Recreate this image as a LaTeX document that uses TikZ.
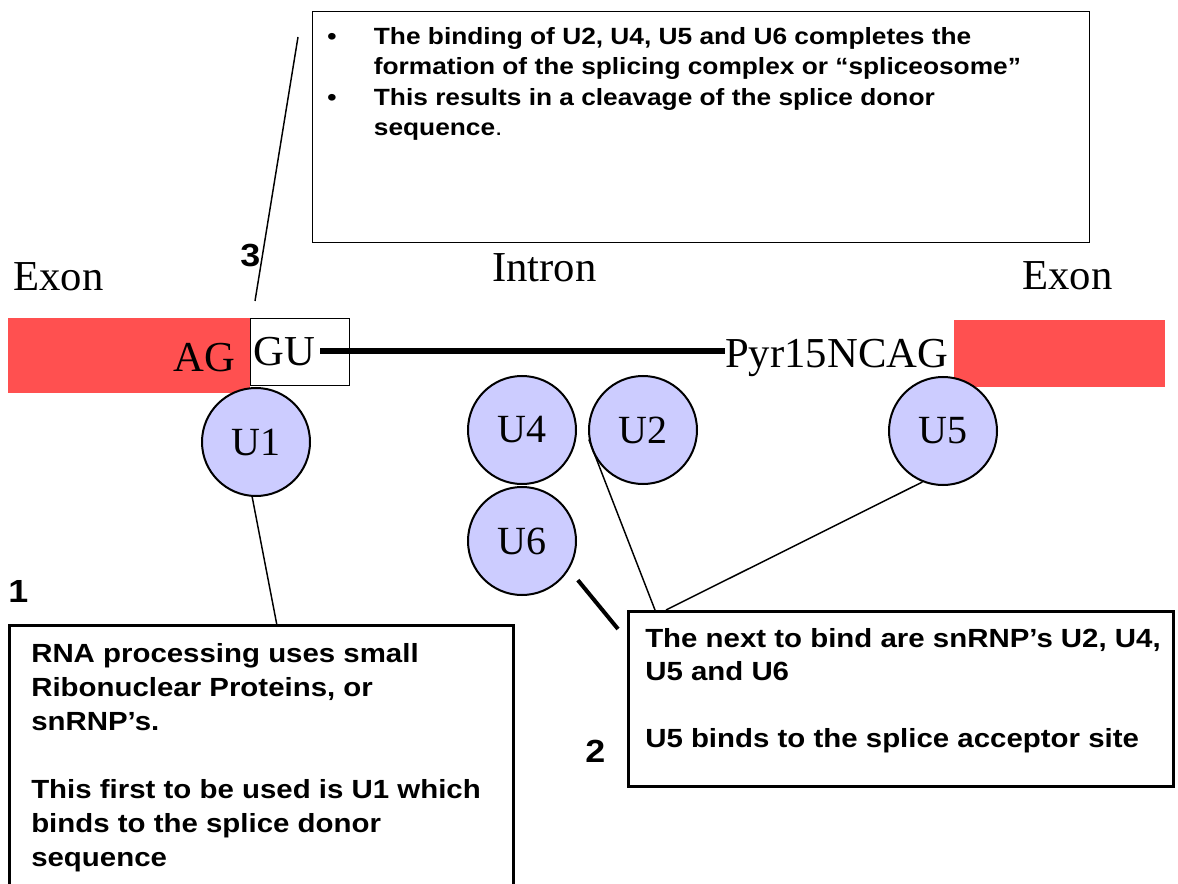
\documentclass[tikz,border=0pt]{standalone}
\usepackage{fontspec}
\setmainfont{Liberation Serif}
\newfontfamily\notefont[FakeStretch=1.12]{Liberation Sans}
\usetikzlibrary{positioning, calc}

\definecolor{exonred}{RGB}{255,80,80}
\definecolor{snrnpblue}{RGB}{204,204,255}

\begin{document}
\begin{tikzpicture}[
  x=0.75pt, y=-0.75pt,
  exon/.style     = {rectangle, fill=exonred, draw=none, inner sep=0pt, anchor=north west},
  snrnp/.style    = {draw, circle, fill=snrnpblue, line width=1.5pt, minimum size=81pt,
                     inner sep=0pt, font=\fontsize{30}{30}\selectfont},
  seq/.style      = {inner sep=0pt, anchor=base west, font=\fontsize{32}{32}\selectfont},
  note/.style     = {draw, rectangle, line width=2.25pt, inner sep=0pt, anchor=north west},
  notetext/.style = {inner sep=0pt, anchor=base west,
                     font=\notefont\bfseries\fontsize{19.7}{25.5}\selectfont},
  num/.style      = {inner sep=0pt, anchor=base west, font=\notefont\bfseries\fontsize{24}{24}\selectfont},
  link/.style     = {line width=1.1pt},
]

  \useasboundingbox (0,0) rectangle (1178,884);
  \clip (0,0) rectangle (1178,884);
  \fill[white] (0,0) rectangle (1178,884);

  % -- the pre-mRNA: exon, donor site, intron, acceptor site, exon ------
  \node[exon, minimum width=181.5pt, minimum height=56.25pt] (exonL) at (8,318) {};
  \node[rectangle, draw, line width=0.9pt, inner sep=0pt, anchor=north west,
        minimum width=74.25pt, minimum height=50.25pt] (donor) at (250,318) {};
  \node[exon, minimum width=158.25pt, minimum height=50.25pt] (exonR) at (954,320) {};

  \node[seq] (exontxtL) at (13,291)   {Exon};
  \node[seq] (introntxt) at (492,282) {Intron};
  \node[seq] (exontxtR) at (1022,290) {Exon};

  \node[seq] (ag)  at (173,371) {AG};
  \node[seq] (gu)  at (253,365) {GU};
  \node[seq] (pyr) at (725,368) {Pyr15NCAG};

  \draw[line width=4.5pt] ([xshift=4pt]gu.east) -- (gu.east -| pyr.west);

  % -- snRNPs ------------------------------------------------------------
  \node[snrnp] (u1) at (256,442) {U1};
  \node[snrnp] (u4) at (522,430) {U4};
  \node[snrnp] (u2) at (643,430) {U2};
  \node[snrnp] (u6) at (522,541) {U6};
  \node[snrnp] (u5) at (943,431) {U5};

  % -- step 1 --------------------------------------------------------------
  \node[num] (num1) at (8,602) {1};
  \node[note, minimum width=378pt, minimum height=225pt] (note1) at (8,624) {};
  \node[notetext] (txt1) at (31,662) {\parbox[t]{360pt}{\raggedright
      RNA processing uses small\\
      Ribonuclear Proteins, or\\
      snRNP’s.\\[25.5pt]
      This first to be used is U1 which\\
      binds to the splice donor\\
      sequence}};

  \draw[link] (u1.266) -- ($(note1.north west)!0.53!(note1.north east)$);

  % -- step 2 --------------------------------------------------------------
  \node[num] (num2) at (585,762) {2};
  \node[note, minimum width=408.75pt, minimum height=131.25pt] (note2) at (627,610) {};
  \node[notetext, font=\notefont\bfseries\fontsize{19.7}{25}\selectfont]
       (txt2) at (645,647) {\parbox[t]{400pt}{\raggedright
      The next to bind are snRNP’s U2, U4,\\
      U5 and U6\\[25pt]
      U5 binds to the splice acceptor site}};

  \draw[link] (u2.190) -- ($(note2.north west)+(28,0)$);
  \draw[link] (u5.248) -- ($(note2.north west)+(39,0)$);
  \draw[line width=3pt] ($(u6.center)!1.24!(u6.-35)$) -- ($(note2.north west)+(-9,19)$);

  % -- step 3 --------------------------------------------------------------
  \node[num] (num3) at (240,267) {3};
  \node[note, line width=1.1pt, minimum width=582.75pt, minimum height=173.25pt] (note3) at (312,11) {};
  \node[notetext, font=\notefont\bfseries\fontsize{17.6}{22.1}\selectfont]
       (txt3) at (327,45) {\parbox[t]{560pt}{\raggedright\parskip=0pt\leftskip=35pt
      \leavevmode\llap{\makebox[35pt][l]{•}}The binding of U2, U4, U5 and U6 completes the\\
      formation of the splicing complex or “spliceosome”\par\vspace{1.5pt}
      \leavevmode\llap{\makebox[35pt][l]{•}}This results in a cleavage of the splice donor\\
      sequence{\mdseries .}}};

  \coordinate (tick3) at (298,37);
  \draw[link] ($(donor.north west)+(5,-17)$) -- (tick3);

\end{tikzpicture}
\end{document}
